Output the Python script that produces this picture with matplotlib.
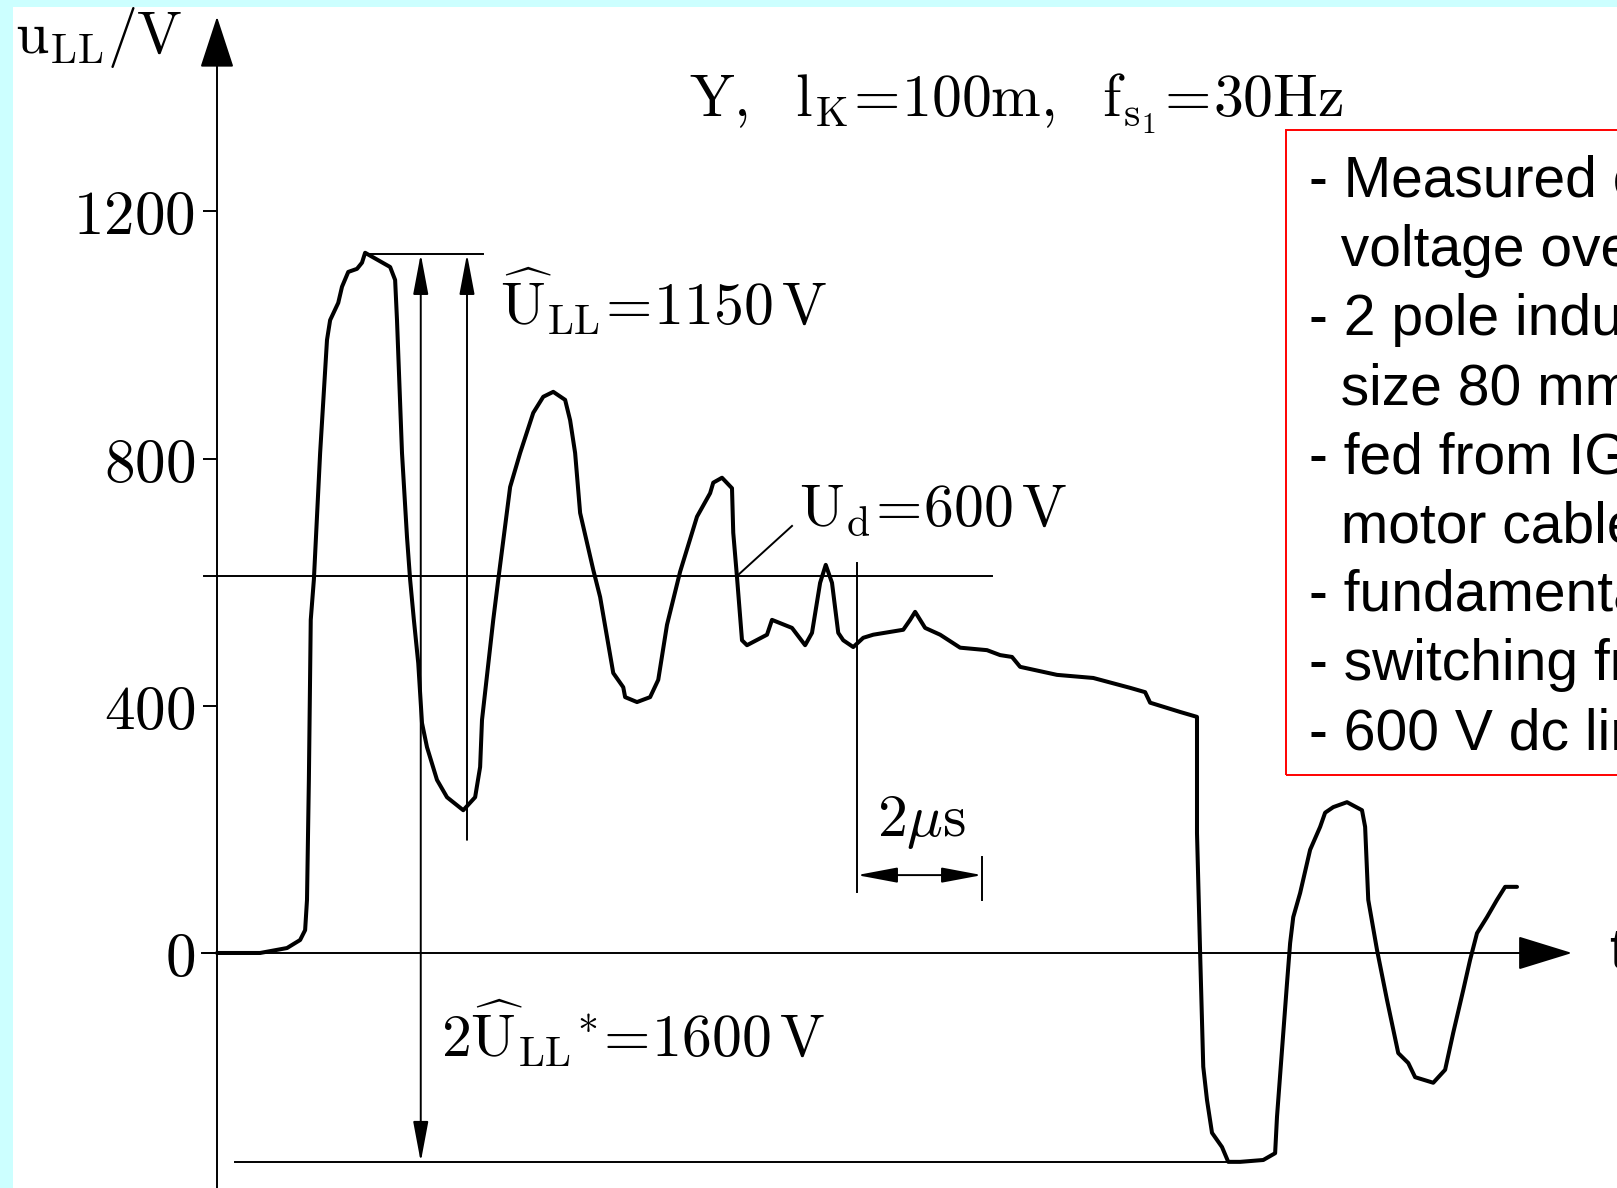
import matplotlib
matplotlib.use('Agg')
import matplotlib.pyplot as plt
from matplotlib.patches import Rectangle

plt.rcParams['mathtext.fontset'] = 'cm'

# line-to-line voltage at the motor terminals
T_US = [0.00, 0.69, 1.12, 1.33, 1.41, 1.44, 1.47, 1.50, 1.55, 1.65, 1.76, 1.81, 1.94, 2.00,
        2.10, 2.24, 2.32, 2.37, 2.77, 2.85, 2.88, 2.96, 3.04, 3.09, 3.15, 3.22, 3.28, 3.36,
        3.52, 3.68, 3.94, 4.13, 4.21, 4.24, 4.37, 4.42, 4.50, 4.69, 4.85, 5.06, 5.22, 5.38,
        5.57, 5.65, 5.73, 5.81, 6.02, 6.13, 6.34, 6.50, 6.53, 6.72, 6.93, 7.06, 7.20, 7.41,
        7.68, 7.89, 7.94, 8.08, 8.24, 8.26, 8.32, 8.40, 8.48, 8.80, 8.88, 9.20, 9.41, 9.52,
        9.65, 9.74, 9.84, 9.94, 10.02, 10.18, 10.34, 10.50, 10.98, 11.09, 11.17, 11.33, 11.57,
        11.89, 12.32, 12.53, 12.72, 12.85, 13.44, 14.02, 14.61, 14.85, 14.93, 15.41, 15.68,
        15.68, 15.68, 15.73, 15.78, 15.84, 15.92, 16.08, 16.18, 16.37, 16.74, 16.93, 16.96,
        17.04, 17.12, 17.17, 17.22, 17.33, 17.49, 17.65, 17.73, 17.86, 18.08, 18.32, 18.37,
        18.42, 18.56, 18.72, 18.90, 19.06, 19.17, 19.46, 19.65, 19.78, 19.94, 20.05, 20.16,
        20.32, 20.48, 20.61, 20.80]
U_V = [0, 0, 8, 21, 37, 86, 280, 539, 604, 809, 992, 1024, 1052, 1078,
       1102, 1107, 1117, 1133, 1110, 1089, 1024, 809, 673, 604, 539, 469, 372, 333,
       280, 252, 231, 252, 301, 377, 495, 539, 604, 754, 809, 874, 900, 908,
       895, 862, 809, 712, 620, 576, 453, 430, 414, 406, 414, 442, 531, 617,
       706, 744, 761, 769, 752, 680, 608, 506, 498, 515, 539, 526, 498, 518,
       599, 628, 599, 518, 506, 495, 510, 515, 523, 539, 552, 526, 515,
       494, 490, 482, 479, 463, 450, 445, 429, 422, 405, 390, 382,
       356, 194, 0, -184, -238, -291, -314, -338, -338, -335, -324, -265,
       -157, -49, 16, 58, 97, 167, 204, 227, 236, 244, 231, 204,
       86, 5, -76, -162, -178, -201, -210, -189, -129, -60, -11, 32,
       58, 86, 107, 107]

Y_TICKS = [0, 400, 800, 1200]
Y_TICK_LABELS = ['0', '400', '800', '1200']

PEAK_LINE = 1131      # level of the first overshoot peak
TROUGH_LINE = -338    # level of the negative peak
UD_LINE = 610         # dc link level
SCALE_T = [10.24, 12.24]   # the 2 us scale bar

BOX_LINES = ['- Measured converter output',
             '  voltage overshoot at the',
             '- 2 pole induction motor,',
             '  size 80 mm',
             '- fed from IGBT inverter via',
             '  motor cable',
             '- fundamental frequency',
             '- switching frequency',
             '- 600 V dc link']

fig = plt.figure(figsize=(16.17, 11.88), dpi=100, facecolor='#ccffff')
ax = fig.add_axes([13 / 1617, 0, 1 - 13 / 1617, 1 - 7 / 1188])
ax.set_facecolor('white')
ax.set_xlim(-3.264, 22.4)
ax.set_ylim(-380.3, 1530.7)

for s in ['top', 'right']:
    ax.spines[s].set_visible(False)
ax.spines['left'].set_position(('data', 0))
ax.spines['bottom'].set_position(('data', 0))
ax.spines['left'].set_bounds(-380.3, 1440)
ax.spines['bottom'].set_bounds(-0.24, 20.9)
for s in ['left', 'bottom']:
    ax.spines[s].set_linewidth(1.4)
ax.set_xticks([])
ax.set_yticks(Y_TICKS)
ax.set_yticklabels([r'$\mathrm{%s}$' % s for s in Y_TICK_LABELS], fontsize=44)
ax.tick_params(axis='y', direction='out', length=10, width=1.4, pad=6)

ahead = dict(color='k', lw=1.4, shrinkA=0, shrinkB=0, mutation_scale=10)
ax.annotate('', xy=(0, 1515), xytext=(0, 1440),
            arrowprops=dict(arrowstyle='-|>,head_length=3.3,head_width=1.08', **ahead))
ax.annotate('', xy=(21.68, 0), xytext=(20.9, 0),
            arrowprops=dict(arrowstyle='-|>,head_length=3.5,head_width=1.08', **ahead))

ax.plot(T_US, U_V, color='k', lw=2.9, solid_joinstyle='round', solid_capstyle='round')

# dimension lines
ax.plot([2.37, 4.26], [PEAK_LINE, PEAK_LINE], color='k', lw=1.4)
ax.plot([0.29, 16.18], [TROUGH_LINE, TROUGH_LINE], color='k', lw=1.4)
ax.plot([-0.21, 12.4], [UD_LINE, UD_LINE], color='k', lw=1.4)
ax.plot([8.32, 9.20], [UD_LINE, 691], color='k', lw=1.4)
ax.plot([SCALE_T[0], SCALE_T[0]], [631, 99], color='k', lw=1.4)
ax.plot([SCALE_T[1], SCALE_T[1]], [155, 86], color='k', lw=1.4)

dim = dict(color='k', lw=1.4, shrinkA=0, shrinkB=0, mutation_scale=10)
ax.annotate('', xy=(3.26, PEAK_LINE), xytext=(3.26, TROUGH_LINE),
            arrowprops=dict(arrowstyle='<|-|>,head_length=2.5,head_width=0.47', **dim))
ax.annotate('', xy=(4.0, PEAK_LINE), xytext=(4.0, 183),
            arrowprops=dict(arrowstyle='-|>,head_length=2.5,head_width=0.47', **dim))
ax.annotate('', xy=(SCALE_T[1], 126), xytext=(SCALE_T[0], 126),
            arrowprops=dict(arrowstyle='<|-|>,head_length=2.5,head_width=0.47', **dim))

fs = 43
eq = r'\!=\!'
ax.text(-3.23, 1456, r'$\mathrm{u_{LL}/V}$', fontsize=fs, va='baseline')
ax.text(7.55, 1354, r'$\mathrm{Y,\ \ l_K' + eq + r'100m,\ \ f_{s_1}' + eq + r'30Hz}$',
        fontsize=fs, va='baseline')
ax.text(4.53, 1016, r'$\mathrm{\widehat{U}_{LL}' + eq + r'1150\,V}$', fontsize=fs, va='baseline')
ax.text(3.58, -168, r'$\mathrm{2\widehat{U}_{LL}}{}^{\ast}' + eq + r'\mathrm{1600\,V}$',
        fontsize=fs, va='baseline')
ax.text(9.31, 691, r'$\mathrm{U_d' + eq + r'600\,V}$', fontsize=fs, va='baseline')
ax.text(10.56, 189, r'$2\mu\mathrm{s}$', fontsize=fs, va='baseline')
ax.text(22.27, 0, 't', fontsize=41, family='Liberation Sans', va='center')

# note box
ax.add_patch(Rectangle((17.10, 288), 10, 1044, fill=False, edgecolor='#ff0000', lw=1.4))
for k, line in enumerate(BOX_LINES):
    ax.text(17.47, 1223 - k * 111.7, line, fontsize=41, family='Liberation Sans', va='baseline')

fig.savefig('out.png', dpi=100, facecolor=fig.get_facecolor())
